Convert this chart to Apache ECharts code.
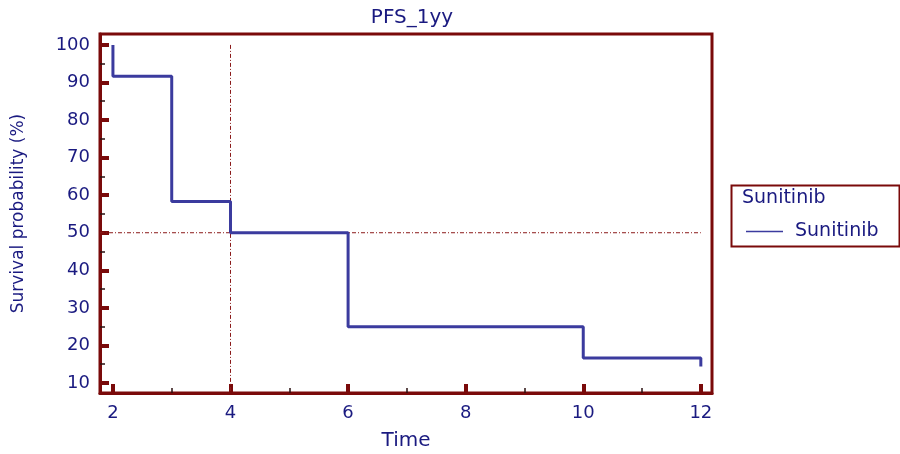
<!DOCTYPE html>
<html>
<head>
<meta charset="utf-8">
<script src="https://cdn.jsdelivr.net/npm/echarts@6/dist/echarts.min.js"></script>
<style>
html,body{margin:0;padding:0;background:#fff;}
#chart{width:900px;height:454px;}
</style>
</head>
<body>
<div id="chart"></div>
<script>
// ---- data ----
const chartTitle = 'PFS_1yy';
const seriesName = 'Sunitinib';
const startTime = 2;
const startSurvival = 100;
const eventTimes = [2, 3, 4, 6, 10];
const survivalAfter = [91.67, 58.33, 50, 25, 16.67];
const endTime = 12;
const censorMarkBottom = 14.4;
const medianSurvival = 50;
const medianTime = 4;
const xTicks = [2, 4, 6, 8, 10, 12];
const xMinorTicks = [3, 5, 7, 9, 11];
const yTicks = [10, 20, 30, 40, 50, 60, 70, 80, 90, 100];
const yMinorTicks = [15, 25, 35, 45, 55, 65, 75, 85, 95];
const xRange = [1.78, 12.19];
const yRange = [7.34, 102.9];

// build step path from KM values
const stepData = [[startTime, startSurvival]];
let prev = startSurvival;
for (let i = 0; i < eventTimes.length; i++) {
  stepData.push([eventTimes[i], prev]);
  stepData.push([eventTimes[i], survivalAfter[i]]);
  prev = survivalAfter[i];
}
stepData.push([endTime, prev]);
stepData.push([endTime, censorMarkBottom]);

const axisRed = '#7a0a0a';
const textBlue = '#1a1a80';
const lineBlue = '#3b3b9e';
const font = 'DejaVu Sans';

const chart = echarts.init(document.getElementById('chart'), null, {renderer: 'canvas'});
const majorTick = {show: true, inside: true, length: 9, lineStyle: {color: axisRed, width: 4}};
const minorTick = {show: true, inside: true, length: 5, lineStyle: {color: '#2a1010', width: 1.5}};

chart.setOption({
  animation: false,
  backgroundColor: '#fff',
  textStyle: {fontFamily: font},
  title: {
    text: chartTitle, top: 3,
    left: 407, textAlign: 'center',
    textStyle: {fontFamily: font, fontSize: 20, fontWeight: 'normal', color: textBlue}
  },
  grid: {left: 100, top: 34, right: 188, bottom: 61, containLabel: false, outerBoundsMode: 'none',
         show: true, borderColor: axisRed, borderWidth: 3, backgroundColor: '#fff'},
  legend: {
    left: 741, top: 217,
    data: [seriesName],
    icon: 'rect', itemWidth: 37, itemHeight: 1.5,
    textStyle: {fontFamily: font, fontSize: 19, color: textBlue, padding: [0, 0, 0, 7]},
    selectedMode: false
  },
  graphic: [
    {type: 'rect', left: 729, top: 183, shape: {width: 168, height: 61}, style: {fill: 'none', stroke: axisRed, lineWidth: 2}, z: 10},
    {type: 'text', left: 742, top: 189, style: {text: seriesName, fontFamily: font, fontSize: 19, fill: textBlue}, z: 10}
  ],
  xAxis: [
    {
      type: 'value', min: xRange[0], max: xRange[1],
      name: 'Time', nameLocation: 'middle', nameGap: 38,
      nameTextStyle: {fontFamily: font, fontSize: 20, color: textBlue},
      axisLine: {show: true, lineStyle: {color: axisRed, width: 3}},
      axisTick: Object.assign({customValues: xTicks}, majorTick),
      axisLabel: {customValues: xTicks, margin: 11, fontFamily: font, fontSize: 18, color: textBlue},
      splitLine: {show: false}
    },
    {
      type: 'value', min: xRange[0], max: xRange[1], position: 'bottom',
      axisLine: {show: false},
      axisTick: Object.assign({customValues: xMinorTicks}, minorTick),
      axisLabel: {show: false},
      splitLine: {show: false}
    }
  ],
  yAxis: [
    {
      type: 'value', min: yRange[0], max: yRange[1],
      name: 'Survival probability (%)', nameLocation: 'middle', nameGap: 73, nameRotate: 90,
      nameTextStyle: {fontFamily: font, fontSize: 17, color: textBlue},
      axisLine: {show: true, lineStyle: {color: axisRed, width: 3}},
      axisTick: Object.assign({customValues: yTicks}, majorTick),
      axisLabel: {customValues: yTicks, margin: 10, fontFamily: font, fontSize: 18, color: textBlue},
      splitLine: {show: false}
    },
    {
      type: 'value', min: yRange[0], max: yRange[1], position: 'left',
      axisLine: {show: false},
      axisTick: Object.assign({customValues: yMinorTicks}, minorTick),
      axisLabel: {show: false},
      splitLine: {show: false}
    }
  ],
  series: [
    {
      name: 'median-h', type: 'line', data: [[xRange[0], medianSurvival], [endTime, medianSurvival]],
      symbol: 'none', silent: true,
      lineStyle: {color: '#8b1a1a', width: 1, type: [4, 2, 1, 2]}, z: 1
    },
    {
      name: 'median-v', type: 'line', data: [[medianTime, startSurvival], [medianTime, yRange[0]]],
      symbol: 'none', silent: true,
      lineStyle: {color: '#8b1a1a', width: 1, type: [4, 2, 1, 2]}, z: 1
    },
    {
      name: seriesName, type: 'line', data: stepData, symbol: 'none',
      itemStyle: {color: lineBlue},
      lineStyle: {color: lineBlue, width: 3}, z: 3
    }
  ]
});
</script>
</body>
</html>
